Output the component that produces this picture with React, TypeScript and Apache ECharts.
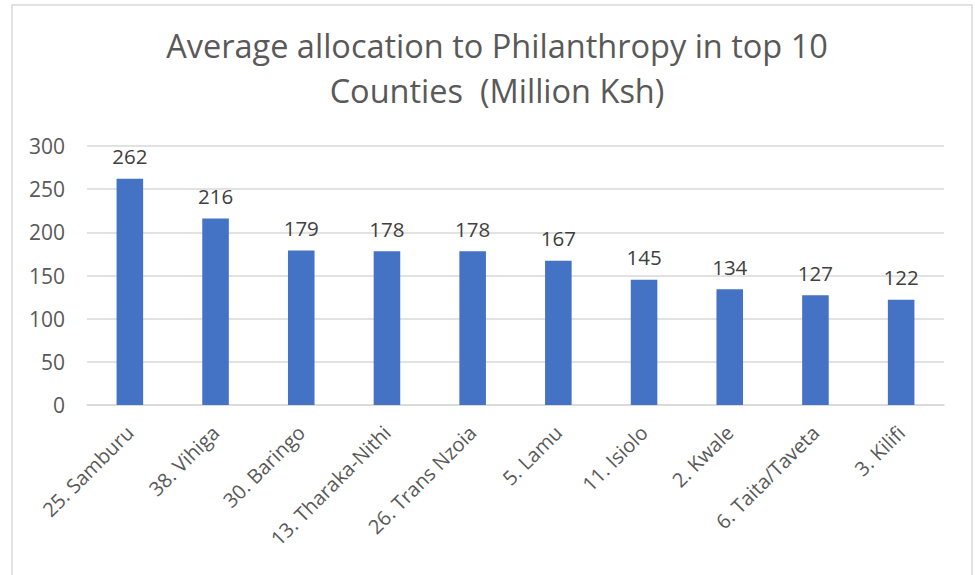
import React, { useEffect, useRef } from "react";
import * as echarts from "echarts";

const categories = [
  "25. Samburu",
  "38. Vihiga",
  "30. Baringo",
  "13. Tharaka-Nithi",
  "26. Trans Nzoia",
  "5. Lamu",
  "11. Isiolo",
  "2. Kwale",
  "6. Taita/Taveta",
  "3. Kilifi",
];
const allocation = [262, 216, 179, 178, 178, 167, 145, 134, 127, 122];
const titleText = "Average allocation to Philanthropy in top 10\nCounties  (Million Ksh)";

export default function App() {
  const ref = useRef<HTMLDivElement>(null);
  useEffect(() => {
    if (!ref.current) return;
    const chart = echarts.init(ref.current, undefined, { renderer: "svg" });
    const font = "'Open Sans', sans-serif";
    chart.setOption({
      animation: false,
      backgroundColor: "#ffffff",
      title: {
        text: titleText,
        left: 492,
        top: 18,
        textAlign: "center",
        textStyle: {
          fontFamily: font,
          fontSize: 32.5,
          fontWeight: "normal",
          color: "#595959",
          lineHeight: 45,
        },
      },
      graphic: [
        {
          type: "rect",
          shape: { x: 12, y: 5, width: 960, height: 600 },
          style: { fill: "none", stroke: "#d9d9d9", lineWidth: 1.5 },
          silent: true,
        },
      ],
      grid: { left: 87, right: 31, top: 146, bottom: 170 },
      xAxis: {
        type: "category",
        data: categories,
        axisLine: { show: true, lineStyle: { color: "#d9d9d9", width: 1.5 } },
        axisTick: { show: false },
        axisLabel: {
          rotate: 45,
          margin: 24,
          fontFamily: font,
          fontSize: 20,
          color: "#595959",
        },
      },
      yAxis: {
        type: "value",
        min: 0,
        max: 300,
        interval: 50,
        axisLine: { show: false },
        axisTick: { show: false },
        splitLine: { lineStyle: { color: "#d9d9d9", width: 1.5 } },
        axisLabel: {
          margin: 22,
          fontFamily: font,
          fontSize: 21,
          color: "#595959",
        },
      },
      series: [
        {
          type: "bar",
          data: allocation,
          barWidth: "31%",
          itemStyle: { color: "#4472c4" },
          label: {
            show: true,
            position: "top",
            distance: 12,
            fontFamily: font,
            fontSize: 20.5,
            color: "#404040",
          },
        },
      ],
    });
    return () => chart.dispose();
  }, []);
  return (
    <div
      ref={ref}
      style={{ position: "fixed", left: 0, top: 0, width: 975, height: 575 }}
    />
  );
}
